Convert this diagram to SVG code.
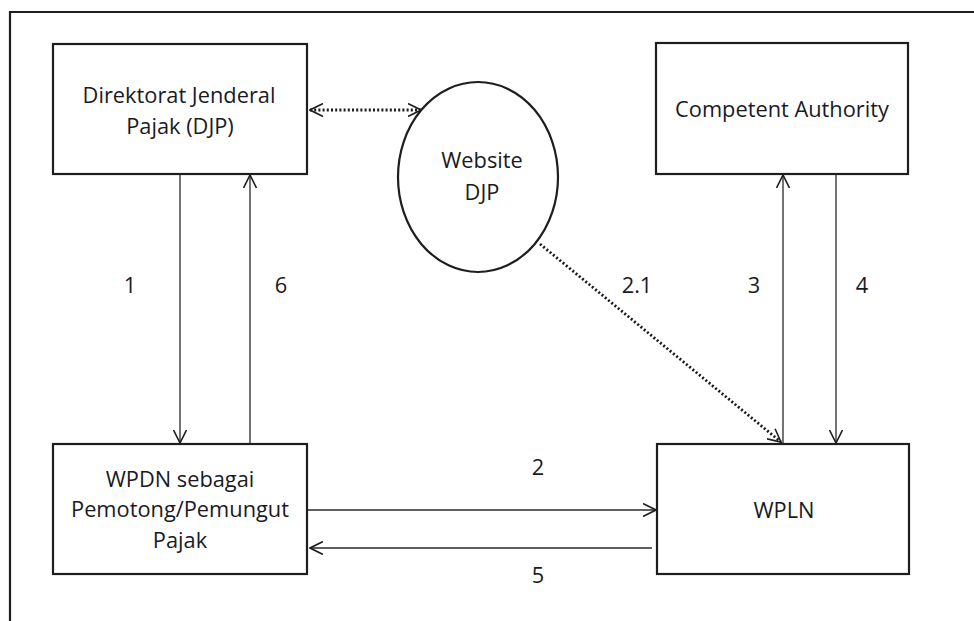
<svg xmlns="http://www.w3.org/2000/svg" width="974" height="621" viewBox="0 0 974 621">
  <style>
    .box { fill: #ffffff; stroke: #1e1e1e; stroke-width: 2.2; }
    .frame { fill: none; stroke: #1e1e1e; stroke-width: 2.2; }
    .txt { font-family: "Open Sans", "Liberation Sans", sans-serif; font-size: 21.8px; fill: #1a1a24; text-anchor: middle; }
    .conn { fill: none; stroke: #2a2a2a; stroke-width: 1.3; }
    .dot { fill: none; stroke: #1a1a1a; stroke-width: 2.8; stroke-dasharray: 2 2.2; }
  </style>
  <defs>
    <marker id="arr" viewBox="0 0 14 14" refX="13" refY="7" markerWidth="14" markerHeight="14" markerUnits="userSpaceOnUse" orient="auto-start-reverse">
      <path d="M0,0.5 L13,7 L0,13.5" fill="none" stroke="#1e1e1e" stroke-width="1.6"/>
    </marker>
  </defs>
  <rect width="974" height="621" fill="#ffffff"/>
  <g id="frame">
    <polyline class="frame" points="10,621 10,12 974,12"/>
  </g>
  <g id="connectors">
    <line class="conn" x1="180" y1="175" x2="180" y2="443" marker-end="url(#arr)"/>
    <line class="conn" x1="250" y1="443" x2="250" y2="175" marker-end="url(#arr)"/>
    <line class="conn" x1="783" y1="443" x2="783" y2="175" marker-end="url(#arr)"/>
    <line class="conn" x1="836" y1="175" x2="836" y2="443" marker-end="url(#arr)"/>
    <line class="conn" x1="308" y1="510" x2="656" y2="510" marker-end="url(#arr)"/>
    <line class="conn" x1="652" y1="548" x2="310" y2="548" marker-end="url(#arr)"/>
    <line class="dot" x1="310" y1="110" x2="421" y2="110" marker-start="url(#arr)" marker-end="url(#arr)"/>
    <line class="dot" x1="540" y1="244" x2="781" y2="442" marker-end="url(#arr)"/>
    <text class="txt" x="130" y="293">1</text>
    <text class="txt" x="281" y="293">6</text>
    <text class="txt" x="637" y="293">2.1</text>
    <text class="txt" x="754" y="293">3</text>
    <text class="txt" x="862" y="293">4</text>
    <text class="txt" x="538" y="475">2</text>
    <text class="txt" x="538" y="583">5</text>
  </g>
  <g id="djp">
    <rect class="box" x="53" y="44" width="254" height="130"/>
    <text class="txt" x="179" y="103">Direktorat Jenderal</text>
    <text class="txt" x="180" y="134">Pajak (DJP)</text>
  </g>
  <g id="website">
    <ellipse cx="478" cy="177" rx="80" ry="95" fill="#ffffff" fill-opacity="0" stroke="#1e1e1e" stroke-width="2.2"/>
    <text class="txt" x="482" y="168">Website</text>
    <text class="txt" x="482" y="200">DJP</text>
  </g>
  <g id="ca">
    <rect class="box" x="656" y="43" width="252" height="131"/>
    <text class="txt" x="782" y="117">Competent Authority</text>
  </g>
  <g id="wpdn">
    <rect class="box" x="53" y="444" width="254" height="130"/>
    <text class="txt" x="180" y="487">WPDN sebagai</text>
    <text class="txt" x="180" y="517">Pemotong/Pemungut</text>
    <text class="txt" x="180" y="548">Pajak</text>
  </g>
  <g id="wpln">
    <rect class="box" x="657" y="444" width="252" height="130"/>
    <text class="txt" x="784" y="518">WPLN</text>
  </g>
</svg>
